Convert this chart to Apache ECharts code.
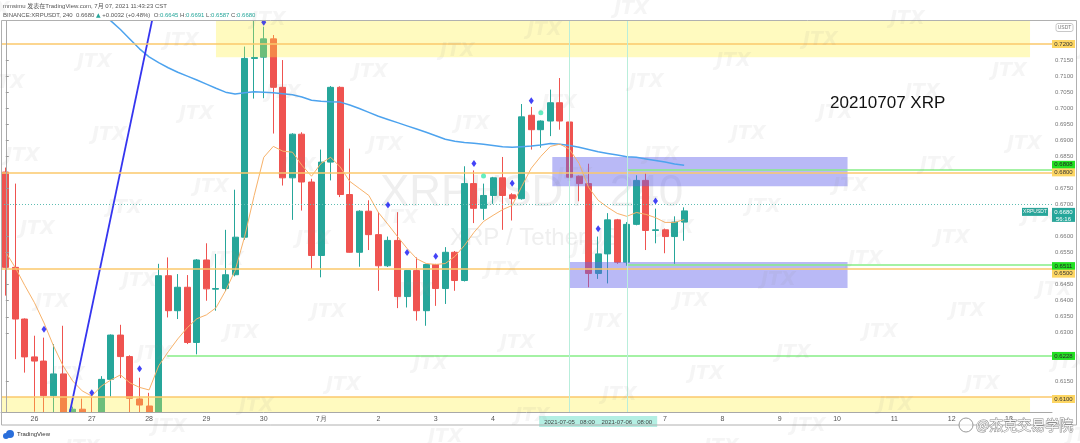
<!DOCTYPE html>
<html>
<head>
<meta charset="utf-8">
<title>XRPUSDT 240</title>
<script src="https://cdn.jsdelivr.net/npm/echarts@6/dist/echarts.min.js"></script>
<style>
html, body { margin: 0; padding: 0; background: #fff; }
#main { width: 1080px; height: 443px; }
</style>
</head>
<body>
<div id="main"></div>
<script>
// 4h candles from 2021-06-25 12:00, [open, close, low, high]
var candles = [
  [0.6801, 0.6504, 0.6416, 0.6815], [0.6504, 0.6343, 0.6218, 0.6765], [0.6343, 0.6225, 0.6176, 0.6345],
  [0.6225, 0.6212, 0.6054, 0.6291], [0.6212, 0.6104, 0.6050, 0.6285], [0.6104, 0.6172, 0.6050, 0.6265],
  [0.6172, 0.6010, 0.5990, 0.6322], [0.6010, 0.6062, 0.5985, 0.6070], [0.6062, 0.6030, 0.6000, 0.6095],
  [0.6030, 0.6010, 0.5980, 0.6100], [0.6010, 0.6155, 0.6000, 0.6165], [0.6155, 0.6293, 0.6101, 0.6295],
  [0.6293, 0.6226, 0.6159, 0.6325], [0.6226, 0.6096, 0.6040, 0.6230], [0.6094, 0.6075, 0.6050, 0.6160],
  [0.6072, 0.6040, 0.6020, 0.6113], [0.6040, 0.6478, 0.6030, 0.6515], [0.6478, 0.6369, 0.6348, 0.6535],
  [0.6369, 0.6442, 0.6343, 0.6483], [0.6442, 0.6270, 0.6265, 0.6480], [0.6270, 0.6527, 0.6233, 0.6530],
  [0.6527, 0.6437, 0.6400, 0.6579], [0.6436, 0.6438, 0.6369, 0.6546], [0.6438, 0.6481, 0.6430, 0.6621],
  [0.6481, 0.6598, 0.6476, 0.6746], [0.6598, 0.7155, 0.6590, 0.7192], [0.7155, 0.7158, 0.7030, 0.7300],
  [0.7159, 0.7216, 0.7031, 0.7254], [0.7216, 0.7065, 0.6921, 0.7228], [0.7065, 0.6783, 0.6759, 0.7150],
  [0.6783, 0.6919, 0.6652, 0.6922], [0.6919, 0.6770, 0.6681, 0.6925], [0.6770, 0.6541, 0.6499, 0.6780],
  [0.6541, 0.6832, 0.6473, 0.6871], [0.6832, 0.7065, 0.6775, 0.7069], [0.7065, 0.6731, 0.6723, 0.7068],
  [0.6731, 0.6551, 0.6550, 0.6874], [0.6551, 0.6679, 0.6506, 0.6682], [0.6679, 0.6606, 0.6558, 0.6713],
  [0.6606, 0.6509, 0.6431, 0.6676], [0.6509, 0.6588, 0.6505, 0.6600], [0.6588, 0.6413, 0.6377, 0.6676],
  [0.6413, 0.6494, 0.6379, 0.6496], [0.6494, 0.6369, 0.6338, 0.6535], [0.6369, 0.6513, 0.6322, 0.6515],
  [0.6513, 0.6438, 0.6384, 0.6515], [0.6438, 0.6551, 0.6390, 0.6567], [0.6551, 0.6463, 0.6431, 0.6555],
  [0.6463, 0.6765, 0.6460, 0.6819], [0.6765, 0.6688, 0.6642, 0.6806], [0.6688, 0.6728, 0.6652, 0.6765],
  [0.6728, 0.6783, 0.6702, 0.6786], [0.6783, 0.6728, 0.6621, 0.6848], [0.6730, 0.6718, 0.6650, 0.6735],
  [0.6718, 0.6973, 0.6715, 0.7013], [0.6978, 0.6933, 0.6871, 0.7004], [0.6933, 0.6960, 0.6877, 0.6962],
  [0.6960, 0.7017, 0.6913, 0.7058], [0.7017, 0.6960, 0.6933, 0.7094], [0.6957, 0.6785, 0.6756, 0.6964],
  [0.6788, 0.6765, 0.6710, 0.6790], [0.6765, 0.6485, 0.6442, 0.6827], [0.6485, 0.6546, 0.6468, 0.6600],
  [0.6546, 0.6652, 0.6454, 0.6673], [0.6652, 0.6520, 0.6515, 0.6655], [0.6520, 0.6638, 0.6509, 0.6645],
  [0.6638, 0.6775, 0.6635, 0.6791], [0.6775, 0.6619, 0.6558, 0.6798], [0.6619, 0.6621, 0.6579, 0.6687],
  [0.6621, 0.6600, 0.6548, 0.6625], [0.6600, 0.6645, 0.6515, 0.6663], [0.6645, 0.6680, 0.6587, 0.6691]
];
var maShort = [
  0.6551, 0.6503, 0.6447, 0.6394, 0.6331, 0.6259, 0.6197, 0.6150, 0.6119, 0.6103,
  0.6134, 0.6153, 0.6169, 0.6144, 0.6130, 0.6122, 0.6197, 0.6241, 0.6281, 0.6316,
  0.6344, 0.6356, 0.6378, 0.6431, 0.6494, 0.6600, 0.6728, 0.6847, 0.6881, 0.6866,
  0.6863, 0.6822, 0.6788, 0.6828, 0.6847, 0.6817, 0.6772, 0.6750, 0.6728, 0.6675,
  0.6638, 0.6600, 0.6563, 0.6531, 0.6516, 0.6513, 0.6516, 0.6538, 0.6572, 0.6613,
  0.6647, 0.6666, 0.6684, 0.6697, 0.6756, 0.6813, 0.6850, 0.6881, 0.6888, 0.6872,
  0.6828, 0.6753, 0.6713, 0.6691, 0.6672, 0.6663, 0.6675, 0.6669, 0.6659, 0.6644,
  0.6644, 0.6653
];
var maLong = [
  0.7580, 0.7550, 0.7520, 0.7490, 0.7460, 0.7430, 0.7400, 0.7370, 0.7340, 0.7315,
  0.7290, 0.7272, 0.7245, 0.7215, 0.7185, 0.7160, 0.7142, 0.7126, 0.7112, 0.7100,
  0.7088, 0.7075, 0.7062, 0.7050, 0.7044, 0.7048, 0.7051, 0.7050, 0.7048, 0.7045,
  0.7042, 0.7035, 0.7025, 0.7022, 0.7020, 0.7019, 0.7010, 0.6999, 0.6987, 0.6975,
  0.6965, 0.6955, 0.6945, 0.6935, 0.6925, 0.6914, 0.6903, 0.6897, 0.6893, 0.6891,
  0.6888, 0.6884, 0.6880, 0.6878, 0.6880, 0.6882, 0.6885, 0.6890, 0.6888, 0.6884,
  0.6878, 0.6871, 0.6864, 0.6859, 0.6854, 0.6849, 0.6847, 0.6842, 0.6837, 0.6832,
  0.6826, 0.6822
];
var sellMarks = [[4, 0.6311], [9, 0.6113], [14, 0.6188], [27, 0.7268], [40, 0.6698], [42, 0.6550],
  [45, 0.6539], [49, 0.6828], [53, 0.6766], [55, 0.7023], [62, 0.6624], [68, 0.6711]];
var tealMarks = [[50, 0.6789], [56, 0.6986]];
var trendLine = [[6.5, 0.6023], [15.5, 0.7300]];
var orangeLevels = [0.72, 0.68, 0.65, 0.61];
var greenLevels = [[65.0, 0.6808], [65.0, 0.6511], [16.9, 0.6228]];
var lastPrice = 0.6680;
var markedTimes = [59, 65];
// [x from, x to, price low, price high]
var zoneBoxes = [[22.0, 107.2, 0.7159, 0.7400], [-0.5, 107.2, 0.5950, 0.6100],
  [57.2, 88.1, 0.6757, 0.6848], [59.05, 88.1, 0.6440, 0.6521]];
var priceTags = [0.7200, 0.6808, 0.6800, 0.6680, 0.6511, 0.6500, 0.6228, 0.6100];
var yTicks = [0.6150, 0.6300, 0.6350, 0.6400, 0.6450, 0.6550, 0.6600, 0.6700, 0.6750,
  0.6850, 0.6900, 0.6950, 0.7000, 0.7050, 0.7100, 0.7150];
var yMin = 0.60533, yMax = 0.72717;
var nSlots = 110;

var times = [];
var t0 = Date.UTC(2021, 5, 25, 12);
for (var k = 0; k < nSlots; k++) {
  times.push(new Date(t0 + k * 4 * 3600e3).toISOString().slice(0, 16).replace('T', ' '));
}
var hlTimes = markedTimes.map(function (i) { return times[i]; });
var hiddenDays = ['2021-07-05 00:00', '2021-07-06 00:00'];
function showTime(i, v) {
  return hlTimes.indexOf(v) >= 0 || (v.slice(11) === '00:00' && hiddenDays.indexOf(v) < 0);
}

var zoneFill = ['rgba(255,240,60,0.33)', 'rgba(255,240,60,0.33)', 'rgba(100,100,235,0.45)', 'rgba(100,100,235,0.45)'];
var tagStyle = [
  { bg: '#fdd663', fg: '#333', dy: 0 },
  { bg: '#22e022', fg: '#222', dy: -5 },
  { bg: '#fdd663', fg: '#333', dy: 0 },
  { bg: '#26a69a', fg: '#fff', dy: 1, sub: '56:16' },
  { bg: '#22e022', fg: '#222', dy: 1 },
  { bg: '#fdd663', fg: '#333', dy: 5 },
  { bg: '#22e022', fg: '#222', dy: 0 },
  { bg: '#fdd663', fg: '#333', dy: 2 }
];
var tinyFont = '6px "Liberation Sans", Arial, sans-serif';

var myChart = echarts.init(document.getElementById('main'));

// background watermark lattice
var watermarks = [];
for (var a = -3; a < 14; a++) {
  for (var b = -5; b < 12; b++) {
    var wx = 20 + a * 87 + b * 15, wy = 220 - a * 21 + b * 73;
    if (wx > -30 && wx < 1080 && wy > -10 && wy < 450) {
      watermarks.push({ type: 'text', x: wx, y: wy, z: 60, silent: true,
        style: { text: 'JTX', font: 'italic bold 19px "DejaVu Sans", sans-serif', fill: 'rgba(140,140,140,0.09)' } });
    }
  }
}

var option = {
  animation: false,
  backgroundColor: '#fff',
  grid: { left: 1, right: 28, top: 21, bottom: 31 },
  xAxis: [{
    type: 'category', data: times, boundaryGap: true, z: 16,
    axisLine: { lineStyle: { color: '#a8a8a8' } },
    axisTick: { interval: showTime, length: 3, lineStyle: { color: '#999' } },
    axisLabel: {
      interval: showTime, fontSize: 7, color: '#555', margin: 4,
      fontFamily: 'Liberation Sans',
      formatter: function (v) {
        if (hlTimes.indexOf(v) >= 0) return '{hl|' + v.replace(' ', '   ') + '}';
        var day = +v.slice(8, 10);
        return day === 1 ? (+v.slice(5, 7)) + '月' : String(day);
      },
      rich: { hl: { backgroundColor: '#b4efe3', color: '#444', fontSize: 6, padding: [3, 5, 2, 5] } }
    },
    splitLine: { show: false }
  }, {
    type: 'value', min: -0.5, max: nSlots - 0.5, show: false
  }],
  yAxis: [{
    type: 'value', position: 'right', min: yMin, max: yMax, z: 16,
    axisLine: { show: true, lineStyle: { color: '#a8a8a8' } },
    axisTick: { show: true, customValues: yTicks, length: 3, lineStyle: { color: '#999' } },
    axisLabel: {
      customValues: yTicks, fontSize: 6, color: '#777', margin: 3, fontFamily: 'Liberation Sans',
      formatter: function (v) { return v.toFixed(4); }
    },
    splitLine: { show: false }
  }],
  series: [
    {
      type: 'candlestick', name: 'XRPUSDT', data: candles, barWidth: '68%', z: 2,
      itemStyle: { color: '#26a69a', color0: '#ef5350', borderColor: '#26a69a', borderColor0: '#ef5350', borderWidth: 1 }
    },
    {
      type: 'custom', name: 'zones', xAxisIndex: 1, yAxisIndex: 0, clip: true, z: 3, silent: true,
      data: zoneBoxes, encode: { x: [0, 1], y: [2, 3] },
      renderItem: function (params, api) {
        var p1 = api.coord([api.value(0), api.value(3)]);
        var p2 = api.coord([api.value(1), api.value(2)]);
        return { type: 'rect', shape: { x: p1[0], y: p1[1], width: p2[0] - p1[0], height: p2[1] - p1[1] },
          style: { fill: zoneFill[params.dataIndex] } };
      }
    },
    {
      type: 'line', name: 'MA long', data: maLong, showSymbol: false, z: 4, silent: true,
      lineStyle: { color: '#4da3ee', width: 1.5 }
    },
    {
      type: 'line', name: 'MA short', data: maShort, showSymbol: false, z: 4, silent: true,
      lineStyle: { color: '#f7b26a', width: 1 }
    },
    {
      type: 'line', name: 'trend', xAxisIndex: 1, data: trendLine, showSymbol: false, z: 4, silent: true,
      lineStyle: { color: '#3535f0', width: 1.8 },
      markLine: {
        silent: true, symbol: 'none', label: { show: false },
        data: orangeLevels.map(function (p) {
          return { yAxis: p, lineStyle: { color: '#fbc96b', width: 1.5, type: 'solid' } };
        }).concat(greenLevels.map(function (g) {
          return [{ coord: [g[0], g[1]], lineStyle: { color: '#86ee86', width: 1.5, type: 'solid' } },
                  { coord: [nSlots - 0.5, g[1]] }];
        })).concat(markedTimes.map(function (i) {
          return { xAxis: i, lineStyle: { color: '#b9eedb', width: 1, type: 'solid' } };
        })).concat([{ yAxis: lastPrice, lineStyle: { color: '#5fbdb3', width: 1, type: [1, 2] } }])
      }
    },
    {
      type: 'scatter', name: 'signal', data: sellMarks, symbol: 'diamond', symbolSize: [5, 7], z: 5,
      itemStyle: { color: '#1414f5' }
    },
    {
      type: 'scatter', name: 'signal2', data: tealMarks, symbol: 'circle', symbolSize: 5, z: 5,
      itemStyle: { color: '#3de8b0' }
    },
    {
      type: 'custom', name: 'tags', xAxisIndex: 1, yAxisIndex: 0, clip: false, z: 10, silent: true,
      data: priceTags.map(function (p) { return [0, p]; }), encode: { x: 0, y: 1 },
      renderItem: function (params, api) {
        var st = tagStyle[params.dataIndex];
        var cs = params.coordSys;
        var x = cs.x + cs.width;
        var y = api.coord([0, api.value(1)])[1] + st.dy;
        var kids = [
          { type: 'rect', shape: { x: x, y: y - 4, width: 23, height: st.sub ? 14 : 8 }, style: { fill: st.bg } },
          { type: 'text', style: { text: api.value(1).toFixed(4), x: x + 11.5, y: y, fill: st.fg, font: tinyFont,
            align: 'center', verticalAlign: 'middle', textAlign: 'center', textVerticalAlign: 'middle' } }
        ];
        if (st.sub) {
          kids.push({ type: 'text', style: { text: st.sub, x: x + 11.5, y: y + 7, fill: st.fg, font: tinyFont,
            align: 'center', verticalAlign: 'middle', textAlign: 'center', textVerticalAlign: 'middle' } });
          kids.push({ type: 'rect', shape: { x: x - 30, y: y - 4, width: 26, height: 8 }, style: { fill: st.bg } });
          kids.push({ type: 'text', style: { text: 'XRPUSDT', x: x - 17, y: y, fill: st.fg, font: '5px "Liberation Sans", sans-serif',
            align: 'center', verticalAlign: 'middle', textAlign: 'center', textVerticalAlign: 'middle' } });
        }
        return { type: 'group', children: kids };
      }
    }
  ],
  graphic: [
    { type: 'text', left: 380, top: 172, z: 0, silent: true,
      style: { text: 'XRPUSDT, 240', font: '44px "Liberation Sans", Arial, sans-serif', fill: '#efefef' } },
    { type: 'text', left: 450, top: 226, z: 0, silent: true,
      style: { text: 'XRP / TetherUS', font: '24px "Liberation Sans", Arial, sans-serif', fill: '#efefef' } },
    // white margins so candles are cut at the pane edges
    { type: 'rect', z: 15, silent: true, shape: { x: 0, y: 0, width: 1052, height: 20.5 }, style: { fill: '#fff' } },
    { type: 'rect', z: 15, silent: true, shape: { x: 0, y: 412.5, width: 1052, height: 31 }, style: { fill: '#fff' } },
    { type: 'rect', z: 17, silent: true, shape: { x: 1.5, y: 20.5, width: 1075, height: 404.5 },
      style: { fill: 'none', stroke: '#b0b0b0', lineWidth: 1 } },
    { type: 'rect', z: 11, silent: true, shape: { x: 1056, y: 23.5, width: 17, height: 8, r: 2 },
      style: { fill: '#fff', stroke: '#c8c8c8', lineWidth: 1 } },
    { type: 'text', z: 12, silent: true, x: 1064.5, y: 27.5,
      style: { text: 'USDT', font: '5px "Liberation Sans", sans-serif', fill: '#777', align: 'center', verticalAlign: 'middle' } },
    { type: 'text', z: 20, silent: true, x: 3, y: 6,
      style: { text: 'mmsimu 发表在TradingView.com, 7月 07, 2021 11:43:23 CST', font: '6px "Liberation Sans", "Noto Sans CJK SC", sans-serif',
        fill: '#555', verticalAlign: 'middle' } },
    { type: 'text', z: 20, silent: true, x: 3, y: 15,
      style: { text: 'BINANCE:XRPUSDT, 240  0.6680 {u|▲} +0.0032 (+0.48%)  O:{v|0.6645} H:{v|0.6691} L:{v|0.6587} C:{v|0.6680}',
        font: '6px "Liberation Sans", sans-serif', fill: '#555', verticalAlign: 'middle',
        rich: { v: { fill: '#26a69a', font: '6px "Liberation Sans", sans-serif' }, u: { fill: '#26a69a', font: '6px "DejaVu Sans", sans-serif' } } } },
    { type: 'text', z: 20, silent: true, x: 830, y: 103,
      style: { text: '20210707 XRP', font: '17px "Liberation Sans", Arial, sans-serif', fill: '#111', verticalAlign: 'middle' } },
    { type: 'circle', z: 20, silent: true, shape: { cx: 966, cy: 425, r: 7 },
      style: { fill: 'rgba(255,255,255,0.6)', stroke: '#9a9a9a', lineWidth: 1 } },
    { type: 'text', z: 20, silent: true, x: 976, y: 425,
      style: { text: '@杰克交易学院', font: '14px "Noto Sans CJK SC", sans-serif', fill: '#f6f6f6',
        stroke: '#8a8a8a', lineWidth: 1, verticalAlign: 'middle' } },
    { type: 'circle', z: 20, silent: true, shape: { cx: 10, cy: 434, r: 4 }, style: { fill: '#2a6fdb' } },
    { type: 'circle', z: 20, silent: true, shape: { cx: 6, cy: 436, r: 3 }, style: { fill: '#2a6fdb' } },
    { type: 'text', z: 20, silent: true, x: 17, y: 434,
      style: { text: 'TradingView', font: '6px "Liberation Sans", sans-serif', fill: '#333', verticalAlign: 'middle' } }
  ].concat(watermarks)
};

myChart.setOption(option);
</script>
</body>
</html>
